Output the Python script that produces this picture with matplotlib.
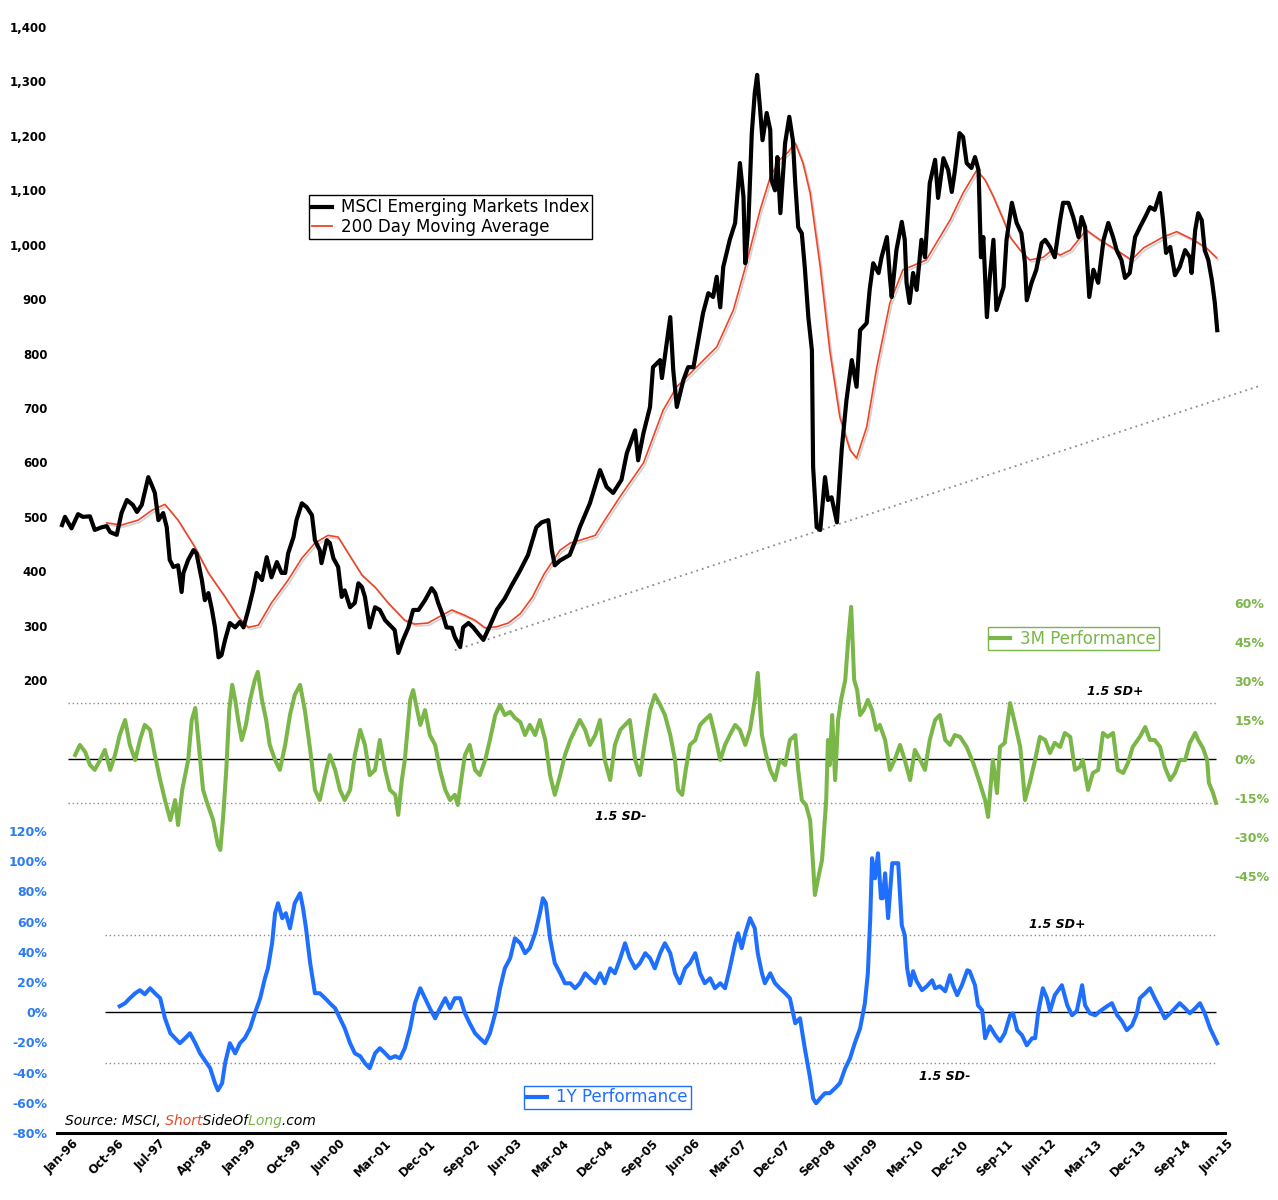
import matplotlib
matplotlib.use("Agg")
import matplotlib.pyplot as plt
import matplotlib.patheffects as pe
from matplotlib.lines import Line2D
from matplotlib.ticker import FuncFormatter
from matplotlib.transforms import Bbox
import numpy as np

RED = "#ee4527"
GREEN = "#7ab648"
BLUE = "#1f6fff"
BLUE_TXT = "#2b7bf3"
GREY = "#8c8c8c"

date_labels = ["Jan-96", "Oct-96", "Jul-97", "Apr-98", "Jan-99", "Oct-99", "Jun-00",
               "Mar-01", "Dec-01", "Sep-02", "Jun-03", "Mar-04", "Dec-04", "Sep-05",
               "Jun-06", "Mar-07", "Dec-07", "Sep-08", "Jun-09", "Mar-10", "Dec-10",
               "Sep-11", "Jun-12", "Mar-13", "Dec-13", "Sep-14", "Jun-15"]

# time in years after Jan-96
price_t = [0.00, 0.05, 0.16, 0.27, 0.35, 0.47, 0.55, 0.67, 0.75, 0.81, 0.92,
           1.00, 1.09, 1.19, 1.26, 1.34, 1.45, 1.51, 1.56, 1.62, 1.70, 1.76, 1.81, 1.87, 1.95,
           2.01, 2.04, 2.12, 2.21, 2.26, 2.35, 2.40, 2.46, 2.52, 2.57, 2.63, 2.68, 2.74, 2.82, 2.91, 2.99,
           3.05, 3.13, 3.21, 3.27, 3.36, 3.44, 3.52, 3.61, 3.69, 3.75, 3.80, 3.89, 3.94,
           4.03, 4.11, 4.20, 4.25, 4.33, 4.36, 4.45, 4.50, 4.56, 4.64, 4.70, 4.75, 4.84, 4.92, 4.98,
           5.04, 5.09, 5.17, 5.26, 5.34, 5.43, 5.51, 5.59, 5.65, 5.73, 5.82, 5.90, 5.99,
           6.10, 6.21, 6.27, 6.32, 6.41, 6.46, 6.55, 6.60, 6.69, 6.74, 6.83, 6.91, 6.99,
           7.08, 7.19, 7.31, 7.44, 7.56, 7.69, 7.83, 7.89, 7.97,
           8.06, 8.17, 8.23, 8.28, 8.37, 8.45, 8.53, 8.62, 8.70, 8.87,
           9.04, 9.15, 9.26, 9.40, 9.49, 9.63, 9.68, 9.77, 9.88, 9.93,
           10.05, 10.08, 10.16, 10.22, 10.27, 10.33, 10.44, 10.52, 10.61, 10.66, 10.77, 10.86, 10.94,
           11.00, 11.06, 11.11, 11.22, 11.31, 11.39, 11.45, 11.48, 11.53, 11.59, 11.64, 11.68,
           11.73, 11.77, 11.84, 11.90, 11.92, 11.98,
           12.02, 12.07, 12.15, 12.22, 12.28, 12.32, 12.37, 12.43, 12.48, 12.54, 12.60, 12.62,
           12.68, 12.74, 12.82, 12.87, 12.93,
           13.02, 13.10, 13.18, 13.27, 13.35, 13.41, 13.52, 13.57, 13.63, 13.72, 13.77, 13.86,
           13.91, 13.94,
           14.02, 14.11, 14.16, 14.19, 14.24, 14.30, 14.36, 14.44, 14.50, 14.58, 14.67, 14.72,
           14.81, 14.89, 14.95,
           15.00, 15.08, 15.14, 15.20, 15.28, 15.34, 15.40, 15.44, 15.48, 15.54, 15.59, 15.65,
           15.70, 15.82, 15.87, 15.96,
           16.04, 16.12, 16.18, 16.21, 16.29, 16.37, 16.46, 16.52, 16.60, 16.68, 16.77, 16.82,
           16.91, 16.99,
           17.08, 17.13, 17.19, 17.26, 17.33, 17.41, 17.50, 17.58, 17.66, 17.72, 17.80, 17.86, 17.94,
           18.03, 18.11, 18.20, 18.28, 18.36, 18.45, 18.50, 18.55, 18.62, 18.70, 18.78, 18.87,
           18.95, 18.98,
           19.04, 19.09, 19.15, 19.20, 19.26, 19.32, 19.37, 19.41]
price = [485, 500, 479, 505, 500, 501, 476, 481, 483, 472, 467,
         507, 531, 522, 509, 522, 573, 558, 544, 494, 507, 481, 421, 408, 411,
         362, 397, 421, 439, 433, 384, 347, 360, 329, 297, 242, 246, 274, 305, 297, 307,
         297, 329, 365, 397, 384, 426, 389, 417, 397, 397, 433, 463, 494,
         525, 518, 503, 457, 439, 415, 457, 452, 424, 408, 353, 365, 334, 342, 378,
         371, 353, 297, 334, 329, 310, 301, 292, 250, 274, 297, 329, 329,
         347, 369, 360, 342, 316, 297, 296, 279, 261, 297, 305, 297, 286,
         274, 300, 330, 350, 375, 400, 430, 452, 481,
         490, 494, 439, 411, 420, 425, 430, 455, 481, 525,
         586, 555, 544, 568, 617, 659, 604, 654, 702, 775,
         788, 755, 819, 867, 770, 702, 751, 775, 775, 806, 874, 911, 904,
         941, 885, 959, 1009, 1040, 1150, 1088, 966, 1032, 1205, 1279, 1312,
         1248, 1192, 1242, 1211, 1119, 1100,
         1161, 1058, 1187, 1235, 1192, 1113, 1032, 1021, 959, 867, 806, 592,
         481, 476, 573, 531, 536,
         490, 623, 714, 788, 739, 843, 856, 917, 966, 948, 977, 1014,
         941, 904,
         990, 1042, 1009, 930, 893, 948, 917, 1009, 977, 1113, 1156, 1086,
         1159, 1137, 1097,
         1134, 1205, 1198, 1150, 1141, 1161, 1137, 977, 1014, 867, 941, 1009,
         880, 922, 1009, 1077,
         1040, 1021, 966, 898, 930, 954, 1003, 1009, 996, 977, 1045, 1077,
         1077, 1051,
         1014, 1051, 1032, 904, 954, 930, 1009, 1040, 1014, 990, 972, 939, 948,
         1014, 1032, 1051, 1069, 1064, 1095, 1045, 985, 996, 944, 959, 990,
         977, 948,
         1027, 1058, 1045, 990, 972, 935, 893, 843]

ma_t = [0.75, 1.00, 1.28, 1.51, 1.73, 1.95, 2.23, 2.46, 2.74, 2.96, 3.13, 3.30, 3.52, 3.80,
        4.03, 4.25, 4.47, 4.64, 4.81, 5.04, 5.26, 5.48, 5.76, 5.93, 6.15, 6.38, 6.55, 6.77,
        6.94, 7.11, 7.30, 7.50, 7.70, 7.90, 8.10, 8.37, 8.54, 8.70, 8.96, 9.09, 9.37, 9.77,
        10.10, 10.33, 10.66, 11.00, 11.28, 11.50, 11.73, 11.90, 12.06, 12.20, 12.32, 12.45,
        12.57, 12.74, 12.90, 13.07, 13.24, 13.35, 13.52, 13.69, 13.91, 14.13, 14.33, 14.52,
        14.75, 14.92, 15.14, 15.37, 15.51, 15.65, 15.82, 15.93, 16.10, 16.26, 16.49, 16.63,
        16.77, 16.94, 17.21, 17.44, 17.72, 17.97, 18.17, 18.50, 18.73, 19.01, 19.23, 19.40]
ma = [489, 485, 494, 512, 523, 494, 445, 397, 353, 316, 297, 301, 342, 384,
      424, 452, 466, 463, 433, 393, 371, 342, 310, 303, 305, 319, 329, 319,
      310, 296, 298, 305, 322, 352, 395, 439, 452, 457, 466, 489, 536, 599,
      696, 739, 775, 812, 880, 966, 1064, 1124, 1156, 1170, 1187, 1150,
      1095, 959, 806, 683, 623, 608, 665, 775, 893, 954, 963, 972,
      1014, 1045, 1095, 1137, 1119, 1088, 1045, 1014, 990, 972, 977, 990,
      981, 990, 1027, 1009, 990, 972, 994, 1014, 1024, 1009, 994, 976]

perf3m_t = [0.22, 0.30, 0.39, 0.47, 0.55, 0.64, 0.72, 0.81, 0.89, 0.97, 1.06, 1.14, 1.23,
            1.31, 1.39, 1.48, 1.56, 1.65, 1.73, 1.82, 1.90, 1.95, 2.02, 2.12, 2.18, 2.24,
            2.29, 2.37, 2.45, 2.54, 2.62, 2.66, 2.71, 2.76, 2.81, 2.86, 2.91, 2.96, 3.02,
            3.09, 3.16, 3.24, 3.29, 3.36, 3.43, 3.49, 3.58, 3.66, 3.75, 3.83, 3.91, 4.00,
            4.08, 4.17, 4.25, 4.33, 4.42, 4.50, 4.59, 4.67, 4.75, 4.84, 4.92, 5.01, 5.09,
            5.17, 5.26, 5.34, 5.43, 5.51, 5.60, 5.65, 5.71, 5.76, 5.85, 5.90, 5.95, 6.02,
            6.10, 6.18, 6.27, 6.35, 6.44, 6.52, 6.60, 6.65, 6.72, 6.77, 6.85, 6.94, 7.02,
            7.11, 7.19, 7.28, 7.36, 7.44, 7.53, 7.61, 7.70, 7.78, 7.86, 7.95, 8.03, 8.12,
            8.20, 8.28, 8.37, 8.45, 8.54, 8.62, 8.70, 8.79, 8.87, 8.96, 9.04, 9.12, 9.21,
            9.29, 9.38, 9.46, 9.54, 9.63, 9.71, 9.80, 9.88, 9.96, 10.05, 10.13, 10.22,
            10.30, 10.35, 10.42, 10.48, 10.55, 10.64, 10.72, 10.80, 10.89, 10.97, 11.06,
            11.14, 11.22, 11.31, 11.39, 11.48, 11.56, 11.64, 11.69, 11.76, 11.83, 11.90,
            11.98, 12.06, 12.15, 12.23, 12.32, 12.37, 12.43, 12.50, 12.57, 12.62, 12.65,
            12.70, 12.77, 12.84, 12.87, 12.90, 12.94, 12.99, 13.04, 13.09, 13.16, 13.21,
            13.26, 13.31, 13.36, 13.41, 13.47, 13.54, 13.61, 13.68, 13.74, 13.83, 13.91,
            13.99, 14.08, 14.16, 14.25, 14.33, 14.42, 14.50, 14.58, 14.67, 14.75, 14.84,
            14.92, 15.00, 15.09, 15.20, 15.31, 15.42, 15.51, 15.56, 15.64, 15.71, 15.76,
            15.84, 15.93, 16.01, 16.10, 16.18, 16.26, 16.35, 16.43, 16.52, 16.60, 16.68,
            16.77, 16.85, 16.94, 17.02, 17.10, 17.15, 17.24, 17.32, 17.41, 17.49, 17.57,
            17.66, 17.74, 17.83, 17.91, 17.99, 18.11, 18.20, 18.28, 18.36, 18.45, 18.53,
            18.62, 18.70, 18.78, 18.87, 18.95, 19.04, 19.09, 19.17, 19.24, 19.27, 19.34, 19.39]
perf3m = [1.5, 5.4, 2.7, -2.3, -4.2, -0.4, 3.5, -4.2, 1.5, 9.2, 15.0, 5.4, -0.4,
          7.3, 13.1, 11.2, 1.5, -8.1, -15.8, -23.5, -15.8, -25.4, -11.9, -0.4, 15.0, 19.6,
          7.3, -11.9, -17.7, -23.5, -33.1, -35.0, -21.5, -4.2, 18.8, 28.5, 22.7, 15.0, 7.3,
          13.1, 22.7, 30.4, 33.5, 22.7, 15.0, 5.4, -0.4, -4.2, 5.4, 16.9, 24.6, 28.5,
          18.8, 3.5, -11.9, -15.8, -6.2, 1.5, -4.2, -11.9, -15.8, -11.9, 1.5, 11.2, 5.4,
          -6.2, -4.2, 7.3, -4.2, -11.9, -13.8, -21.5, -8.1, -0.4, 22.7, 26.5, 20.8, 13.1,
          18.8, 9.2, 5.4, -4.2, -11.9, -15.8, -13.8, -17.7, -6.2, 1.5, 5.4, -4.2, -6.2,
          -0.4, 7.3, 16.9, 20.8, 16.9, 18.1, 15.8, 14.2, 9.2, 13.1, 9.2, 15.0, 7.3,
          -6.2, -13.8, -6.2, 1.5, 7.3, 11.2, 15.0, 11.2, 5.4, 9.2, 15.0, -0.4, -8.1,
          5.4, 11.2, 13.1, 15.0, -0.4, -6.2, 7.3, 18.8, 24.6, 20.8, 16.9, 9.2,
          -0.4, -11.9, -13.8, -4.2, 5.4, 7.3, 13.1, 15.0, 16.9, 9.2, -0.4,
          5.4, 9.2, 13.1, 11.2, 5.4, 11.2, 22.7, 33.1, 9.2, 1.5, -4.2,
          -8.1, -0.4, -2.3, 7.3, 9.2, -4.2, -15.8, -17.7, -23.5, -40.8, -52.3,
          -46.5, -38.8, -15.8, 7.3, -2.3, 16.9, -8.1, 15.0, 22.7, 30.4, 45.8,
          58.5, 30.4, 26.5, 16.9, 18.8, 22.7, 18.8, 11.2, 13.1, 7.3, -4.2,
          -0.4, 5.4, -0.4, -8.1, 3.5, -0.4, -4.2, 7.3, 15.0, 16.9, 7.3,
          5.4, 9.2, 8.5, 4.6, -1.5, -9.2, -15.8, -22.3, -0.4, -13.1, 4.6,
          6.2, 21.5, 13.8, 4.6, -15.8, -9.2, -0.4, 8.5, 7.3, 2.3, 6.2,
          4.6, 10.0, 8.5, -4.2, -3.1, -0.4, -11.9, -5.4, -4.2, 10.0, 8.5,
          10.0, -4.2, -5.4, -1.5, 4.6, 8.5, 12.3, 7.3, 7.3, 4.6, -3.1,
          -8.1, -5.4, -0.4, -0.4, 6.2, 10.0, 7.3, 4.2, -0.4, -9.2, -13.1, -16.9]

perf1y_t = [0.97, 1.06, 1.14, 1.23, 1.31, 1.39, 1.48, 1.56, 1.65, 1.73, 1.82, 1.90, 1.98,
            2.07, 2.15, 2.24, 2.32, 2.40, 2.49, 2.57, 2.62, 2.69, 2.74, 2.82, 2.91, 2.99,
            3.07, 3.16, 3.24, 3.33, 3.41, 3.46, 3.53, 3.58, 3.63, 3.70, 3.76, 3.83, 3.91,
            4.00, 4.05, 4.10, 4.17, 4.25, 4.33, 4.42, 4.50, 4.59, 4.67, 4.75, 4.84, 4.92,
            5.01, 5.09, 5.17, 5.26, 5.34, 5.43, 5.51, 5.60, 5.68, 5.76, 5.85, 5.93, 6.02,
            6.10, 6.18, 6.27, 6.35, 6.44, 6.52, 6.60, 6.69, 6.77, 6.85, 6.94, 7.02, 7.11,
            7.19, 7.28, 7.36, 7.44, 7.53, 7.61, 7.70, 7.78, 7.86, 7.95, 8.03, 8.08, 8.13,
            8.20, 8.28, 8.37, 8.45, 8.54, 8.62, 8.70, 8.79, 8.87, 8.96, 9.04, 9.12, 9.21,
            9.29, 9.38, 9.46, 9.54, 9.63, 9.71, 9.80, 9.88, 9.96, 10.05, 10.13, 10.22,
            10.30, 10.38, 10.47, 10.55, 10.64, 10.72, 10.80, 10.89, 10.97, 11.06, 11.14,
            11.22, 11.31, 11.36, 11.42, 11.48, 11.56, 11.64, 11.69, 11.76, 11.81, 11.90,
            11.98, 12.06, 12.15, 12.23, 12.32, 12.40, 12.48, 12.57, 12.62, 12.67, 12.74,
            12.82, 12.90, 12.99, 13.07, 13.16, 13.24, 13.32, 13.41, 13.49, 13.54, 13.58,
            13.61, 13.66, 13.71, 13.76, 13.79, 13.83, 13.88, 13.95, 14.05, 14.11, 14.16,
            14.20, 14.25, 14.30, 14.36, 14.45, 14.53, 14.62, 14.67, 14.75, 14.84, 14.92,
            14.97, 15.04, 15.12, 15.21, 15.25, 15.34, 15.39, 15.46, 15.51, 15.59, 15.68,
            15.76, 15.84, 15.93, 15.98, 16.05, 16.13, 16.21, 16.30, 16.35, 16.40, 16.48,
            16.55, 16.60, 16.68, 16.80, 16.89, 16.97, 17.05, 17.14, 17.19, 17.27, 17.36,
            17.44, 17.56, 17.64, 17.73, 17.81, 17.89, 17.98, 18.06, 18.11, 18.20, 18.28,
            18.36, 18.45, 18.53, 18.62, 18.70, 18.78, 18.87, 18.95, 19.04, 19.12, 19.20,
            19.29, 19.37, 19.41]
perf1y = [4.0, 6.0, 9.3, 12.6, 14.6, 11.9, 15.9, 12.6, 9.3, -4.0, -13.9, -17.2, -20.5,
          -17.2, -13.9, -20.5, -27.2, -31.8, -37.1, -47.0, -51.7, -47.0, -33.8, -20.5, -27.2, -20.5,
          -17.2, -10.6, -0.7, 9.3, 22.5, 29.1, 45.7, 65.6, 72.2, 62.3, 65.6, 55.6, 72.2,
          78.8, 68.9, 55.6, 32.5, 12.6, 12.6, 9.3, 6.0, 2.6, -4.0, -10.6, -20.5, -27.2,
          -29.1, -33.8, -37.1, -27.2, -23.8, -27.2, -30.5, -29.1, -30.5, -23.8, -10.6, 6.0, 15.9,
          9.3, 2.6, -4.0, 2.6, 9.3, 2.6, 9.3, 9.3, -0.7, -7.3, -13.9, -17.2, -20.5,
          -13.9, -0.7, 15.9, 29.1, 35.8, 49.0, 45.7, 39.1, 42.4, 52.3, 65.6, 75.5, 72.2,
          49.0, 32.5, 25.8, 19.2, 19.2, 15.9, 19.2, 25.8, 22.5, 19.2, 25.8, 19.2, 29.1,
          25.8, 35.8, 45.7, 35.8, 29.1, 32.5, 39.1, 35.8, 29.1, 39.1, 45.7, 39.1,
          25.8, 19.2, 29.1, 32.5, 39.1, 25.8, 19.2, 22.5, 15.9, 19.2, 15.9,
          29.1, 45.7, 52.3, 42.4, 52.3, 62.3, 55.6, 39.1, 25.8, 19.2, 25.8,
          19.2, 15.9, 12.6, 9.3, -7.3, -4.0, -23.8, -43.7, -57.0, -60.3, -57.0,
          -53.6, -53.6, -50.3, -47.0, -37.1, -30.5, -20.5, -10.6, 6.0, 25.8, 62.3,
          102.0, 88.7, 105.3, 75.5, 75.5, 92.0, 62.3, 98.7, 98.7, 57.6, 51.0,
          29.1, 17.9, 27.2, 20.5, 14.6, 17.2, 21.2, 15.9, 17.2, 13.9, 24.5,
          17.9, 11.3, 17.9, 27.8, 27.2, 17.9, 4.6, 1.3, -17.2, -9.3, -15.2,
          -19.2, -13.9, -2.0, -0.7, -11.9, -15.2, -21.9, -17.2, -17.2, -0.7, 15.9,
          9.3, 0.7, 11.3, 17.9, 4.6, -2.0, 0.7, 17.9, 4.6, -0.7, -2.0,
          0.7, 4.0, 6.0, -2.0, -6.0, -11.9, -8.6, -0.7, 9.3, 12.6, 15.9,
          9.3, 2.6, -4.0, -0.7, 2.6, 6.0, 2.6, -0.7, 2.6, 6.0, -0.7,
          -10.6, -17.2, -20.5]

sd_3m = [21.7, -17.0]
sd_1y = [51.0, -33.8]
trend_t = [6.60, 20.16]
trend = [255, 742]

fig = plt.figure(figsize=(12.78, 12.0), dpi=100)
ax = fig.add_axes([0.0446, 0.0558, 0.9139, 0.9217])
ax3 = ax.twinx()
ax1 = ax.twinx()
ax1.yaxis.tick_left()

for a in (ax, ax3, ax1):
    for s in ("top", "left", "right"):
        a.spines[s].set_visible(False)
for a in (ax3, ax1):
    a.spines["bottom"].set_visible(False)
ax.spines["bottom"].set_linewidth(2.2)

# price panel
ax.plot(trend_t, trend, color=GREY, lw=1.3, ls=(0, (1, 2.2)), clip_on=False)
ax.plot(ma_t, ma, color=RED, lw=1.2,
        path_effects=[pe.SimpleLineShadow(offset=(1.2, -1.5), shadow_color="grey", alpha=0.35),
                      pe.Normal()])
ax.plot(price_t, price, color="black", lw=3.0, solid_joinstyle="round")
ax.set_ylim(-632, 1400)
ax.set_yticks(np.arange(200, 1401, 100))
ax.yaxis.set_major_formatter(FuncFormatter(lambda v, p: f"{v:,.0f}"))

x_ticks = np.linspace(price_t[0], price_t[-1], len(date_labels))
ax.set_xticks(x_ticks)
ax.set_xticklabels(date_labels, rotation=45, ha="center")
ax.set_xlim(-0.084, 19.54)
ax.tick_params(axis="x", length=0, pad=3, labelsize=8.5)
ax.tick_params(axis="y", length=0, pad=7, labelsize=8.5)
for lab in ax.get_xticklabels() + ax.get_yticklabels():
    lab.set_fontweight("bold")

# 3 month performance
t0, t1 = price_t[0] + 0.1, perf3m_t[-1]
ax3.hlines(0, t0, t1, color="black", lw=1.0)
ax3.hlines(sd_3m, t0, t1, color=GREY, lw=1.0, linestyles=(0, (1, 2)))
ax3.plot(perf3m_t, perf3m, color=GREEN, lw=2.9, solid_joinstyle="round")
ax3.set_ylim(-143.85, 281.5)
ax3.set_yticks(np.arange(-45, 61, 15))
ax3.yaxis.set_major_formatter(FuncFormatter(lambda v, p: f"{v:.0f}%"))
ax3.tick_params(axis="y", length=0, pad=7, labelsize=9, labelcolor=GREEN)
ax3.annotate("1.5 SD+", xy=(17.69, sd_3m[0]), xytext=(0, 3), textcoords="offset points",
             ha="center", va="bottom", style="italic", fontweight="bold", fontsize=9)
ax3.annotate("1.5 SD-", xy=(9.38, sd_3m[1]), xytext=(0, -5), textcoords="offset points",
             ha="center", va="top", style="italic", fontweight="bold", fontsize=9)

# 1 year performance
u0 = ma_t[0] - 0.03
ax1.hlines(0, u0, t1, color="black", lw=1.0)
ax1.hlines(sd_1y, u0, t1, color=GREY, lw=1.0, linestyles=(0, (1, 2)))
ax1.plot(perf1y_t, perf1y, color=BLUE, lw=2.9, solid_joinstyle="round")
ax1.set_ylim(-80, 652.5)
ax1.set_yticks(np.arange(-80, 121, 20))
ax1.yaxis.set_major_formatter(FuncFormatter(lambda v, p: f"{v:.0f}%"))
ax1.tick_params(axis="y", length=0, pad=7, labelsize=9, labelcolor=BLUE_TXT)
for lab in ax3.get_yticklabels() + ax1.get_yticklabels():
    lab.set_fontweight("bold")
ax1.annotate("1.5 SD+", xy=(16.73, sd_1y[0]), xytext=(0, 3), textcoords="offset points",
             ha="center", va="bottom", style="italic", fontweight="bold", fontsize=9)
ax1.annotate("1.5 SD-", xy=(14.84, sd_1y[1]), xytext=(0, -5), textcoords="offset points",
             ha="center", va="top", style="italic", fontweight="bold", fontsize=9)

# legends
W, H = 1278.0, 1200.0
leg = fig.legend([Line2D([], [], color="black", lw=3), Line2D([], [], color=RED, lw=1.3)],
                 ["MSCI Emerging Markets Index", "200 Day Moving Average"],
                 loc="upper left", bbox_to_anchor=(309 / W, 1 - 195 / H),
                 fontsize=12, handlelength=1.2, handletextpad=0.5, borderpad=0.2,
                 labelspacing=0.1, borderaxespad=0, fancybox=False, framealpha=1,
                 edgecolor="black")
leg.get_frame().set_linewidth(1.0)

leg3 = fig.legend([Line2D([], [], color=GREEN, lw=3)], ["3M Performance"],
                  loc="upper left", bbox_to_anchor=(988 / W, 1 - 627 / H),
                  fontsize=12, handlelength=1.2, handletextpad=0.6, borderpad=0.15,
                  borderaxespad=0, fancybox=False, framealpha=1, edgecolor=GREEN,
                  labelcolor=GREEN)
leg3.get_frame().set_linewidth(1.0)

leg1 = fig.legend([Line2D([], [], color=BLUE, lw=3)], ["1Y Performance"],
                  loc="upper left", bbox_to_anchor=(524 / W, 1 - 1086 / H),
                  fontsize=12, handlelength=1.2, handletextpad=0.6, borderpad=0.15,
                  borderaxespad=0, fancybox=False, framealpha=1, edgecolor=BLUE,
                  labelcolor=BLUE)
leg1.get_frame().set_linewidth(1.0)

# source line: the whole string drawn once per colour, each copy clipped to its word
pieces = [("Source: MSCI, ", "black"), ("Short", RED), ("SideOf", "black"),
          ("Long", GREEN), (".com", "black")]
full = "".join(p for p, _ in pieces)
x_src, y_src = 65 / W, 1 - 1125 / H
renderer = fig.canvas.get_renderer()
edges = []
prefix = ""
for s, _ in pieces[:-1]:
    prefix += s
    probe = fig.text(x_src, y_src, prefix.rstrip() if s.endswith(" ") else prefix,
                     style="italic", fontsize=10, va="baseline")
    bb = probe.get_window_extent(renderer)
    edges.append(bb.x1 + (3 if s.endswith(" ") else 0))
    probe.remove()
x_left = x_src * W - 5
bounds = [x_left] + edges + [W]
for (s, col), xa, xb in zip(pieces, bounds[:-1], bounds[1:]):
    txt = fig.text(x_src, y_src, full, style="italic", fontsize=10, va="baseline", color=col)
    txt.set_clip_box(Bbox([[xa, 0], [xb, H]]))

fig.savefig("out.png", dpi=100)
